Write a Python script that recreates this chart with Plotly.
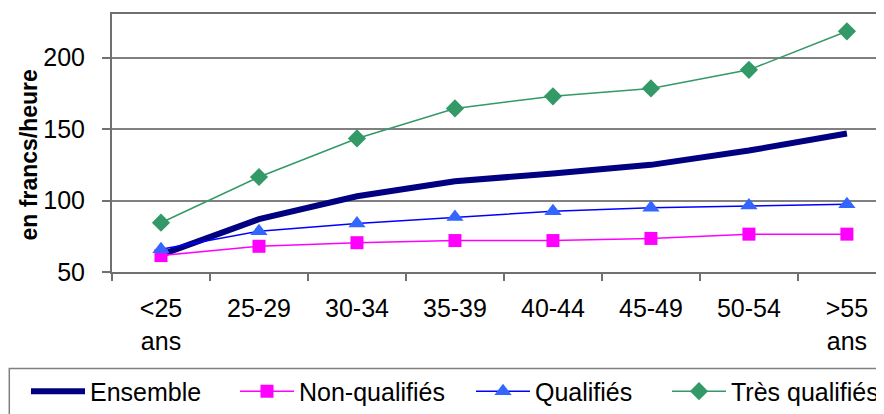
import plotly.graph_objects as go

categories = ["<25 ans", "25-29", "30-34", "35-39", "40-44", "45-49", "50-54", ">55 ans"]
tick_labels = ["&lt;25<br>ans", "25-29", "30-34", "35-39", "40-44", "45-49", "50-54", "&gt;55<br>ans"]

ensemble = [62, 87, 103, 113.5, 119, 125, 135, 147]
non_qualifies = [61.5, 68, 70.5, 72, 72, 73.5, 76.5, 76.5]
qualifies = [66, 78.5, 84, 88.5, 92.5, 95, 96.5, 97.5]
tres_qualifies = [84.5, 116.5, 143.5, 164.5, 173, 178.5, 191.5, 218.5]

y_ticks = [50, 100, 150, 200]
y_title = "en francs/heure"

FONT = "Liberation Sans, Arial, sans-serif"

fig = go.Figure()
fig.add_trace(go.Scatter(x=categories, y=ensemble, name="Ensemble", mode="lines",
                         line=dict(color="#000080", width=6), legend="legend"))
fig.add_trace(go.Scatter(x=categories, y=non_qualifies, name="Non-qualifiés", mode="lines+markers",
                         line=dict(color="#FF00FF", width=1.5),
                         marker=dict(symbol="square", size=13, color="#FF00FF"), legend="legend2"))
fig.add_trace(go.Scatter(x=categories, y=qualifies, name="Qualifiés", mode="lines+markers",
                         line=dict(color="#0000FF", width=1.5),
                         marker=dict(symbol="triangle-up", size=15, color="#3366FF"), legend="legend3"))
fig.add_trace(go.Scatter(x=categories, y=tres_qualifies, name="Très qualifiés", mode="lines+markers",
                         line=dict(color="#339966", width=1.5),
                         marker=dict(symbol="diamond", size=14, color="#339966"), legend="legend4"))

# plot area in page pixels: left 112, width 780, top 14, height 257.7
def px_x(p):
    return (p - 112) / 780.0

def px_y(p):
    return (271.7 - p) / 257.7

def leg(xpx):
    return dict(orientation="h", x=px_x(xpx), y=px_y(368), xanchor="left", yanchor="top",
                borderwidth=0, font=dict(size=25), bgcolor="rgba(0,0,0,0)", itemwidth=54)

fig.update_layout(
    width=884, height=414,
    margin=dict(l=104, r=0, t=6, b=150, autoexpand=False),
    paper_bgcolor="white", plot_bgcolor="white",
    font=dict(family=FONT, size=25, color="black"),
    showlegend=True,
    legend=leg(26), legend2=leg(235), legend3=leg(471), legend4=leg(667),
    xaxis=dict(type="category", categoryorder="array", categoryarray=categories,
               tickvals=categories, ticktext=tick_labels,
               range=[-0.5, 7.46], showgrid=False, zeroline=False,
               showline=True, linecolor="#707070", linewidth=2, mirror=True,
               ticks="outside", tickson="boundaries", ticklen=7, tickwidth=1.5,
               tickcolor="#707070", tickfont=dict(size=25), ticklabelstandoff=13),
    yaxis=dict(range=[50, 230.6], tickvals=y_ticks, showgrid=True,
               gridcolor="#808080", gridwidth=1.5, zeroline=False,
               showline=True, linecolor="#707070", linewidth=2,
               ticks="outside", ticklen=8, tickwidth=1.5, tickcolor="#707070",
               tickfont=dict(size=25), ticklabelstandoff=12),
    annotations=[dict(text="<b>" + y_title + "</b>", textangle=-90,
                      xref="paper", yref="paper", x=-0.106, y=0.453,
                      xanchor="center", yanchor="middle", showarrow=False,
                      font=dict(family=FONT, size=23, color="black"))],
    shapes=[dict(type="rect", xref="paper", yref="paper",
                 x0=px_x(9.3), x1=px_x(905), y0=px_y(368), y1=px_y(440),
                 line=dict(color="#808080", width=1.5), fillcolor="rgba(0,0,0,0)")],
)

fig.write_html("out.html")
